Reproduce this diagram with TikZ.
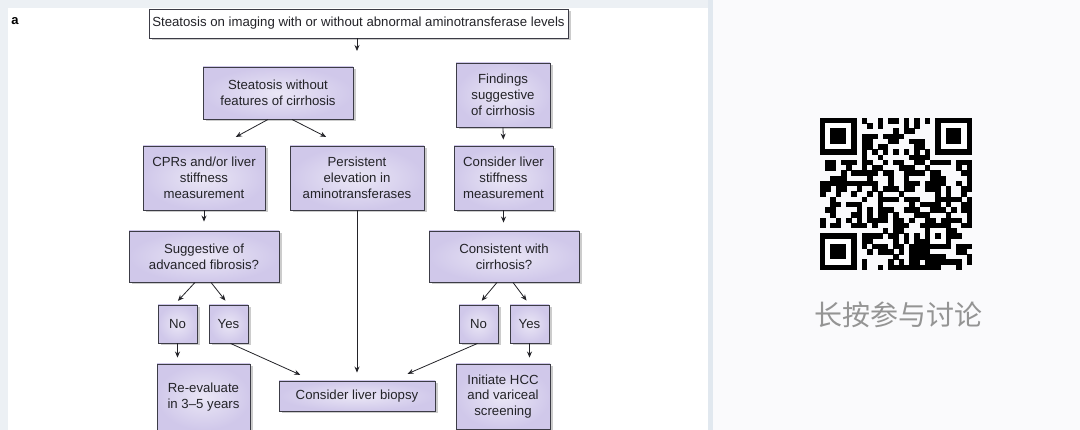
\documentclass[tikz,border=0pt]{standalone}
\usepackage{fontspec}
\setmainfont{Liberation Sans}
\newfontfamily\cjk{Noto Sans CJK SC}
\usetikzlibrary{arrows.meta, calc, shadows}

\definecolor{lav}{RGB}{208,200,234}
\definecolor{edge}{RGB}{60,60,70}
\definecolor{ink}{RGB}{35,35,40}
\definecolor{pagebg}{RGB}{236,240,244}
\definecolor{stripbg}{RGB}{225,232,239}
\definecolor{sidebg}{RGB}{250,250,252}

\begin{document}
\begin{tikzpicture}[x=1pt, y=-1pt, >={Stealth[length=6pt,width=5pt]},
    font=\fontsize{13.2}{15.8}\selectfont, text=ink,
    box/.style={draw=edge, line width=0.9pt, inner color=white!55!lav, outer color=lav,
        align=center, inner sep=0pt,
        drop shadow={shadow xshift=2.5pt, shadow yshift=-2.5pt, opacity=0.4}},
    topbox/.style={box, inner color=white, outer color=white},
    link/.style={->, draw=ink, line width=0.8pt}]
    \useasboundingbox (0,0) rectangle (1080,430);

    % Draw the page background and panels
    \fill[pagebg] (0,0) rectangle (1080,430);
    \fill[white] (8,8) rectangle (708,430);
    \fill[stripbg] (708,0) rectangle (713,430);
    \fill[sidebg] (713,0) rectangle (1080,430);

    \node[font=\bfseries\fontsize{13}{15}\selectfont, text=black] (lbl) at (15,21) {a};

    % Draw the boxes
    \node[topbox, minimum width=419, minimum height=29] (top) at (358.5,23.5)
        {Steatosis on imaging with or without abnormal aminotransferase levels};
    \coordinate (split) at (357,51);

    \node[box, minimum width=150, minimum height=52] (sw) at (278,93)
        {Steatosis without\\features of cirrhosis};
    \node[box, minimum width=94, minimum height=64] (fc) at (503,95)
        {Findings\\suggestive\\of cirrhosis};

    \node[box, minimum width=122, minimum height=64] (cpr) at (204,178)
        {CPRs and/or liver\\stiffness\\measurement};
    \node[box, minimum width=134, minimum height=64] (pe) at (357,178)
        {Persistent\\elevation in\\aminotransferases};
    \node[box, minimum width=99, minimum height=64] (cls) at (503.5,178)
        {Consider liver\\stiffness\\measurement};

    \node[box, minimum width=150, minimum height=51] (saf) at (204,256.5)
        {Suggestive of\\advanced fibrosis?};
    \node[box, minimum width=150, minimum height=51] (cwc) at (504,256.5)
        {Consistent with\\cirrhosis?};

    \node[box, minimum width=39, minimum height=38] (no1) at (177.5,324) {No};
    \node[box, minimum width=39, minimum height=38] (yes1) at (228.5,324) {Yes};
    \node[box, minimum width=39, minimum height=38] (no2) at (478.5,324) {No};
    \node[box, minimum width=39, minimum height=38] (yes2) at (529.5,324) {Yes};

    \node[box, minimum width=93, minimum height=66] (rev) at (203.5,397)
        {Re-evaluate\\in 3--5 years};
    \node[box, minimum width=156, minimum height=30] (clb) at (357,396)
        {Consider liver biopsy};
    \node[box, minimum width=94, minimum height=65] (hcc) at (503,396.5)
        {Initiate HCC\\and variceal\\screening};

    % Draw the arrows
    \draw[link] (top.south -| split) -- (split);
    \draw[link, shorten >=18pt] ($(sw.south)+(-10,0)$) -- ($(cpr.north)+(16,0)$);
    \draw[link, shorten >=19pt] ($(sw.south)+(14,0)$) -- ($(pe.north)+(-14,0)$);
    \draw[link, shorten >=6pt] (fc.south) -- (cls.north);
    \draw[link, shorten >=9pt] (cpr.south) -- (saf.north);
    \draw[link, shorten >=8pt] (pe.south) -- (clb.north);
    \draw[link, shorten >=8pt] (cls.south) -- (cls.south |- cwc.north);
    \draw[link, shorten >=5pt] ($(saf.south)+(-9,0)$) -- ($(no1.north)+(-3,0)$);
    \draw[link, shorten >=5pt] ($(saf.south)+(7,0)$) -- (yes1.north);
    \draw[link, shorten >=5pt] ($(cwc.south)+(-7,0)$) -- (no2.north);
    \draw[link, shorten >=5pt] ($(cwc.south)+(9,0)$) -- (yes2.north);
    \draw[link, shorten >=6pt] (no1.south) -- (no1.south |- rev.north);
    \draw[link, shorten >=14pt] ($(yes1.south)+(2,0)$) -- ($(clb.north)+(-44,0)$);
    \draw[link, shorten >=17pt] ($(no2.south)+(-1,0)$) -- ($(clb.north)+(35,0)$);
    \draw[link, shorten >=6pt] (yes2.south) -- (yes2.south |- hcc.north);

    % Draw the QR code
    \def\qm{5.24}
    \coordinate (qr) at (820,118);
    \pgfmathsetseed{4217}
    \foreach \i in {0,...,28}{
        \foreach \j in {0,...,28}{
            \pgfmathtruncatemacro{\skipq}{or(or(and(\i<8,\j<8),and(\i>20,\j<8)),or(and(\i<8,\j>20),and(and(\i>19,\i<25),and(\j>19,\j<25))))}
            \pgfmathtruncatemacro{\bitq}{\i==6 ? (mod(\j,2)==0) : (\j==6 ? (mod(\i,2)==0) : (rnd<0.56))}
            \ifnum\skipq=0 \ifnum\bitq=1
                \fill[black] ($(qr)+(\i*\qm,\j*\qm)$) rectangle ++(\qm+0.3,\qm+0.3);
            \fi\fi
        }
    }
    \foreach \fx/\fy in {0/0, 22/0, 0/22}{
        \fill[black] ($(qr)+(\fx*\qm,\fy*\qm)$) rectangle ++(7*\qm,7*\qm);
        \fill[white] ($(qr)+(\fx*\qm+\qm,\fy*\qm+\qm)$) rectangle ++(5*\qm,5*\qm);
        \fill[black] ($(qr)+(\fx*\qm+2*\qm,\fy*\qm+2*\qm)$) rectangle ++(3*\qm,3*\qm);
    }
    \fill[black] ($(qr)+(20*\qm,20*\qm)$) rectangle ++(5*\qm,5*\qm);
    \fill[white] ($(qr)+(21*\qm,21*\qm)$) rectangle ++(3*\qm,3*\qm);
    \fill[black] ($(qr)+(22*\qm,22*\qm)$) rectangle ++(\qm,\qm);

    \node[font=\cjk\fontsize{28}{32}\selectfont, text=black!42] (cap) at (898,315) {长按参与讨论};
\end{tikzpicture}
\end{document}
